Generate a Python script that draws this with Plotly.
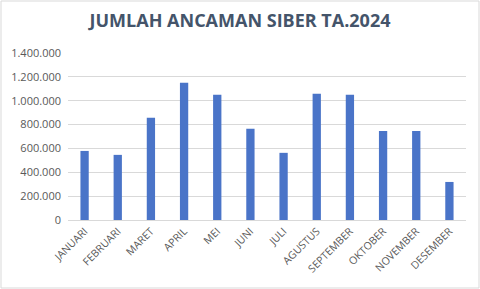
import plotly.graph_objects as go

months = ["JANUARI", "FEBRUARI", "MARET", "APRIL", "MEI", "JUNI", "JULI",
          "AGUSTUS", "SEPTEMBER", "OKTOBER", "NOVEMBER", "DESEMBER"]
values = [579000, 546000, 857000, 1151000, 1050000, 764000, 563000,
          1058000, 1050000, 747000, 747000, 319000]
y_ticks = [0, 200000, 400000, 600000, 800000, 1000000, 1200000, 1400000]

W, H = 480, 289
ml, mr, mt, mb = 68, 14, 53, 69
pw, ph = W - ml - mr, H - mt - mb

fig = go.Figure(go.Bar(
    x=months, y=values,
    marker=dict(color="#4a74c8", line=dict(width=0)),
))

fig.update_layout(
    width=W, height=H,
    margin=dict(l=ml, r=mr, t=mt, b=mb),
    paper_bgcolor="white", plot_bgcolor="white",
    separators=",.",
    bargap=0.75,
    showlegend=False,
    title=dict(text="<b>JUMLAH ANCAMAN SIBER TA.2024</b>",
               x=0.5, xanchor="center", y=1 - 21 / H, yanchor="middle",
               font=dict(family="Open Sans", size=18, color="#44546a")),
    font=dict(family="Open Sans", color="#595959", size=11),
    xaxis=dict(tickangle=-45, tickfont=dict(size=10.5, color="#595959"),
               showgrid=False, showline=True, linecolor="#d9d9d9",
               ticks="", fixedrange=True),
    yaxis=dict(range=[0, 1400000], tickvals=y_ticks, tickformat=",d",
               gridcolor="#d9d9d9", gridwidth=1, zeroline=False,
               showline=False, ticks="", ticklabelstandoff=6,
               tickfont=dict(size=11, color="#595959")),
    shapes=[dict(type="rect", xref="paper", yref="paper",
                 x0=-(ml - 1) / pw, x1=1 + (mr - 1) / pw,
                 y0=-(mb - 1) / ph, y1=1 + (mt - 1) / ph,
                 line=dict(color="#d9d9d9", width=1), layer="below")],
)

fig.write_html("out.html")
